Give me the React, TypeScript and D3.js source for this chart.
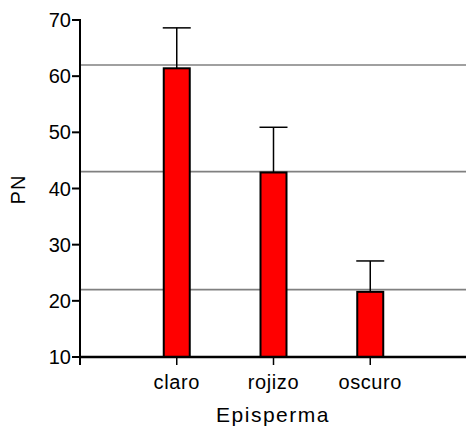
import React from "react";
import * as d3 from "d3";

const categories = ["claro", "rojizo", "oscuro"];
const means = [61.4, 42.85, 21.6];
const upperErrors = [68.6, 50.9, 27.1];
const refLines = [62, 43, 22];
const yTicks = [10, 20, 30, 40, 50, 60, 70];
const xLabel = "Episperma";
const yLabel = "PN";

const W = 466;
const H = 430;
const FONT = "'Liberation Sans', Arial, sans-serif";

export default function App() {
  const axisX = 80;
  const y = d3.scaleLinear().domain([10, 70]).range([357, 20]);
  const x = d3.scalePoint<string>().domain(categories).range([axisX, 467]).padding(1);
  const barW = 26;
  const capW = 28;
  const y0 = y(10);

  return (
    <svg
      width={W}
      height={H}
      style={{ position: "absolute", left: 0, top: 0, background: "#fff" }}
      fontFamily={FONT}
    >
      <rect width={W} height={H} fill="#fff" />
      {refLines.map((v, i) => (
        <line key={"r" + i} x1={axisX} x2={W} y1={y(v)} y2={y(v)} stroke="#808080" strokeWidth={1.6} />
      ))}
      {categories.map((c, i) => {
        const cx = x(c)!;
        return (
          <g key={c}>
            <line x1={cx} x2={cx} y1={y(means[i])} y2={y(upperErrors[i])} stroke="#000" strokeWidth={1.5} />
            <line x1={cx - capW / 2} x2={cx + capW / 2} y1={y(upperErrors[i])} y2={y(upperErrors[i])} stroke="#000" strokeWidth={1.5} />
            <rect
              x={cx - barW / 2}
              y={y(means[i])}
              width={barW}
              height={y0 - y(means[i])}
              fill="#ff0000"
              stroke="#000"
              strokeWidth={2}
            />
            <line x1={cx} x2={cx} y1={y0} y2={y0 + 8} stroke="#000" strokeWidth={1.5} />
            <text x={cx} y={389} textAnchor="middle" fontSize={20} letterSpacing={0.6} fill="#000">
              {c}
            </text>
          </g>
        );
      })}
      {/* y axis */}
      <line x1={axisX} x2={axisX} y1={y(70) - 1} y2={y0 + 8} stroke="#000" strokeWidth={2} />
      {yTicks.map((t) => (
        <g key={t}>
          <line x1={axisX - 8} x2={axisX} y1={y(t)} y2={y(t)} stroke="#000" strokeWidth={2} />
          <text x={71} y={y(t) + 7} textAnchor="end" fontSize={20} fill="#000">
            {t}
          </text>
        </g>
      ))}
      {/* x axis */}
      <line x1={axisX} x2={W} y1={y0} y2={y0} stroke="#000" strokeWidth={2.5} />
      <text x={273} y={422} textAnchor="middle" fontSize={21} letterSpacing={1.5} fill="#000">
        {xLabel}
      </text>
      <text
        transform={`translate(25,${189.5}) rotate(-90)`}
        textAnchor="middle"
        fontSize={20}
        letterSpacing={1}
        fill="#000"
      >
        {yLabel}
      </text>
    </svg>
  );
}
